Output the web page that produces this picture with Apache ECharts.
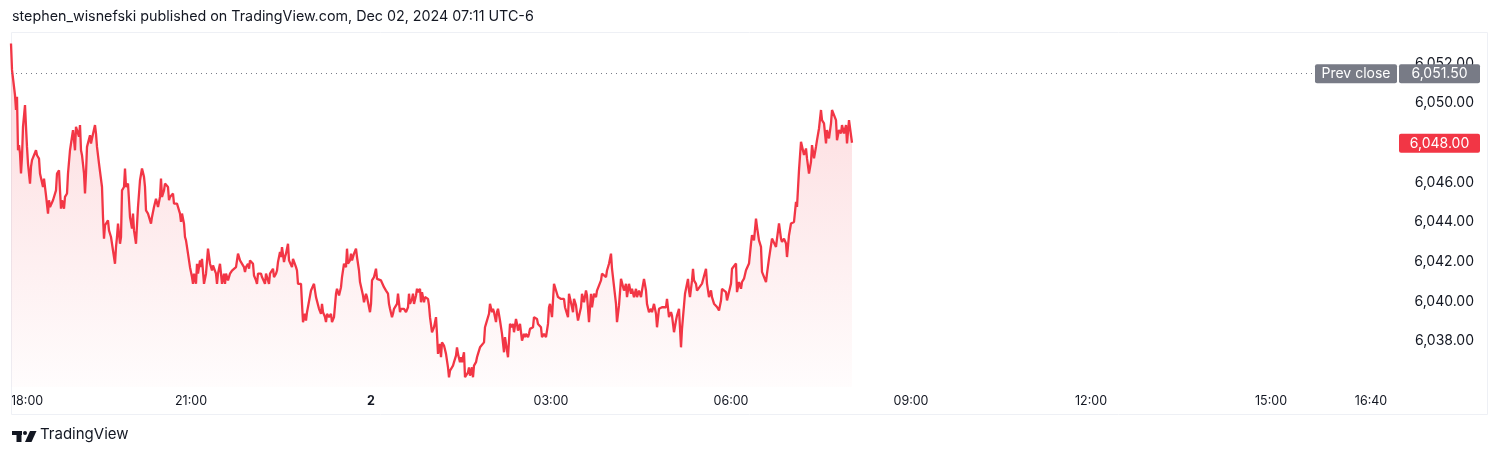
<!DOCTYPE html>
<html>
<head>
<meta charset="utf-8">
<script src="https://cdn.jsdelivr.net/npm/echarts@6/dist/echarts.min.js"></script>
<style>
html,body{margin:0;padding:0;background:#fff;}
#chart{width:1500px;height:457px;}
</style>
</head>
<body>
<div id="chart"></div>
<script>
// Minutes after 18:00 (session start, Dec 1) for each sampled point
const times = [0,1,3,4,5,6,7,8,9,10,11,12,13,14,15,16,17,19,20,21,23,25,26,28,29,31,32,33,34,35,37,38,39,41,42,43,45,46,47,48,49,50,51,53,54,56,57,59,61,62,63,64,65,67,68,69,70,71,73,74,75,76,78,79,80,81,82,84,85,86,88,89,91,92,93,94,96,97,98,100,101,103,104,105,106,107,109,110,111,113,114,115,117,118,119,121,122,123,125,126,127,129,130,131,133,134,135,137,139,140,141,143,145,146,147,149,150,151,153,154,155,157,158,159,161,162,163,165,166,167,169,170,171,173,174,175,177,178,179,181,182,183,185,186,187,189,190,191,193,194,195,197,198,199,201,202,203,205,206,207,209,210,211,213,214,215,217,218,219,221,222,223,225,226,227,229,230,231,233,234,235,237,238,239,241,242,243,245,246,247,249,250,251,253,254,255,257,258,259,261,262,263,265,266,267,269,270,271,273,274,275,277,278,279,281,282,283,285,286,287,
290,291,292,294,295,296,298,300,301,303,304,305,307,308,310,311,312,314,315,316,318,320,321,323,325,326,328,330,331,333,335,336,337,339,340,341,343,345,346,348,349,351,352,353,355,356,357,359,360,361,363,365,366,368,370,371,373,374,375,377,378,379,381,382,383,385,386,387,389,390,391,393,394,395,397,398,399,401,402,403,405,406,407,409,410,411,413,414,415,417,418,419,421,422,423,425,426,427,429,430,431,433,434,435,437,438,439,441,442,443,445,446,447,449,450,451,453,454,455,457,458,459,461,462,463,465,466,467,469,470,471,473,474,475,477,478,479,481,482,483,485,486,487,489,490,491,493,494,495,497,498,499,501,502,503,505,506,507,509,510,511,513,514,515,517,518,519,521,522,523,525,526,527,529,530,531,533,534,535,537,538,539,541,542,543,545,546,547,549,550,551,553,554,555,557,558,559,561,562,563,565,566,567,
570,571,573,575,576,578,580,581,583,585,586,588,590,591,593,595,596,598,600,601,603,605,606,608,610,611,613,615,616,618,620,621,623,625,626,628,630,631,633,635,636,638,640,641,643,645,646,648,650,651,653,655,656,658,660,661,663,665,666,668,670,671,673,674,675,677,678,679,681,682,683,685,686,
688,691,695,696,698,700,701,703,705,706,708,710,711,713,715,716,718,720,721,723,725,726,728,730,731,733,735,736,738,740,741,743,745,746,748,750,751,753,755,756,758,760,761,763,765,766,768,770,771,773,775,776,778,780,781,783,785,786,788,790,791,793,795,796,798,800,801,803,805,806,808,810,811,813,815,816,818,820,821,823,825,826,828,830,831,833,835,836,838,840,841];

// ES futures price
const prices = [6053.00,6051.67,6051.67,6050.40,6049.65,6050.32,6047.62,6047.88,6047.46,6046.45,6047.29,6048.80,6048.89,6049.90,6048.80,6047.79,6046.95,6045.94,6046.78,6047.12,6047.12,6047.62,6047.37,6047.20,6046.45,6046.45,6045.77,6046.19,6046.11,6045.35,6044.43,6045.10,6044.76,6044.68,6045.10,6045.10,6045.60,6046.45,6046.45,6046.61,6045.60,6044.68,6045.10,6044.68,6045.27,6045.44,6046.45,6047.62,6047.62,6048.63,6048.13,6047.62,6048.80,6048.89,6048.30,6048.89,6047.62,6047.37,6046.45,6045.44,6046.45,6047.79,6047.88,6048.38,6047.96,6048.21,6048.13,6048.89,6048.46,6047.79,6046.95,6046.87,6045.77,6044.26,6043.16,6043.84,6043.75,6044.09,6043.58,6043.25,6042.91,6042.83,6041.90,6042.74,6043.25,6043.92,6042.91,6043.25,6045.60,6045.77,6046.70,6045.77,6045.94,6045.10,6044.26,6043.67,6044.43,6043.58,6042.91,6043.84,6044.76,6046.11,6046.19,6046.70,6046.28,6045.77,6044.59,6044.43,6044.43,6043.92,6044.26,6044.76,6045.18,6045.10,6044.76,6045.27,6046.19,6045.27,6045.60,6045.94,6045.94,6045.77,6045.10,6045.27,6045.27,6045.44,6044.93,6044.93,6044.93,6044.85,6044.43,6044.01,6044.43,6043.92,6043.25,6043.08,6042.41,6042.07,6041.73,6041.23,6040.89,6041.40,6040.89,6041.90,6041.40,6042.07,6041.73,6042.15,6040.89,6041.14,6041.40,6042.66,6042.66,6041.90,6041.56,6041.82,6041.90,6041.40,6040.89,6041.40,6041.90,6041.40,6040.89,6041.40,6040.89,6041.40,6041.06,6041.14,6041.40,6041.56,6041.65,6041.56,6041.73,6042.07,6042.41,6042.07,6042.15,6042.07,6041.73,6041.48,6041.73,6041.90,6041.65,6042.07,6042.15,6041.90,6041.31,6041.06,6040.89,6041.40,6041.40,6041.40,6041.23,6041.14,6040.89,6041.40,6041.40,6040.89,6041.40,6041.40,6041.65,6041.23,6041.40,6041.56,6041.99,6042.49,6042.24,6042.74,6041.99,6042.24,6042.41,6042.91,6042.07,6042.15,6041.73,6042.15,6042.07,6041.73,6041.56,6040.89,
6040.89,6039.88,6038.96,6039.38,6039.04,6039.46,6039.38,6040.55,6040.64,6040.89,6040.55,6040.22,6040.22,6039.63,6039.38,6039.88,6039.46,6039.21,6038.96,6039.38,6039.21,6039.38,6038.96,6039.21,6040.39,6040.64,6040.30,6040.72,6041.23,6041.90,6041.73,6042.66,6041.90,6042.07,6042.41,6042.07,6042.41,6042.66,6042.24,6041.56,6040.98,6040.89,6040.30,6039.96,6040.39,6040.22,6040.30,6039.46,6039.88,6041.06,6041.23,6041.65,6041.14,6041.14,6041.06,6041.14,6040.72,6040.81,6040.55,6040.39,6039.88,6039.63,6039.21,6039.38,6039.63,6039.71,6039.88,6040.39,6039.46,6039.63,6039.71,6039.63,6039.71,6039.46,6039.71,6040.39,6039.88,6040.13,6040.39,6039.88,6040.30,6040.64,6040.47,6040.64,6039.96,6040.47,6039.96,6040.22,6040.13,6040.13,6039.80,6039.21,6038.45,6038.45,6038.70,6039.21,6038.37,6037.36,6037.86,6037.19,6037.94,6037.78,6037.86,6037.36,6036.68,6036.18,6036.51,6036.43,6036.77,6036.94,6037.27,6037.69,6037.36,6036.94,6037.19,6036.94,6037.44,6036.18,6036.18,6036.43,6036.68,6036.26,6036.68,6036.18,6036.77,6036.94,6037.19,6037.36,6037.69,6037.61,6037.69,6037.94,6038.70,6038.87,6038.96,6039.38,6039.88,6039.46,6039.63,6039.46,6038.96,6039.46,6039.63,6039.04,6038.96,6038.37,6037.44,6038.20,6037.86,6037.19,6038.03,6038.87,6038.70,6038.87,6038.45,6039.12,6038.87,6038.53,6038.87,6038.45,6038.03,6038.37,6038.20,6038.37,6038.20,6038.37,6038.62,6038.53,6038.70,6039.21,6039.21,6039.12,6038.87,6038.79,6038.70,6038.20,6038.37,6038.45,6038.20,6038.87,6039.71,6039.88,6039.21,6040.05,6040.89,6040.81,6040.39,6040.22,6040.30,6040.13,6040.22,6040.13,6039.71,6039.63,6039.21,6040.39,6040.30,6039.71,6039.46,6040.13,6039.80,6039.38,6039.04,
6039.71,6040.39,6039.96,6040.55,6040.30,6038.96,6040.39,6039.71,6040.39,6040.22,6040.55,6040.64,6041.06,6041.40,6041.40,6041.23,6041.56,6041.90,6042.41,6041.65,6041.65,6039.88,6038.96,6039.80,6041.14,6041.14,6040.55,6040.89,6040.22,6040.89,6040.39,6040.64,6040.22,6040.64,6040.22,6040.55,6040.22,6040.55,6041.14,6040.55,6039.88,6039.46,6039.63,6039.46,6039.88,6039.38,6038.70,6039.63,6039.71,6039.71,6039.71,6039.71,6040.13,6039.21,6039.46,6039.29,6038.45,6039.04,6039.29,6039.63,6037.69,6038.62,6038.70,6040.39,6040.39,6041.14,6040.55,6040.22,6041.06,6041.65,6041.06,6040.89,6040.55,
6040.56,6040.90,6041.65,6040.90,6040.22,6040.56,6040.22,6039.89,6039.89,6039.72,6039.55,6040.05,6040.64,6040.64,6040.47,6040.05,6040.05,6040.90,6041.65,6041.65,6041.91,6040.47,6040.98,6040.64,6040.98,6041.15,6041.57,6041.65,6041.91,6042.92,6043.34,6043.08,6044.18,6043.76,6043.08,6042.75,6041.49,6041.40,6040.98,6041.40,6042.16,6042.24,6043.17,6043.17,6042.75,6043.17,6043.93,6043.17,6043.00,6043.17,6042.92,6042.24,6043.34,6043.93,6043.93,6044.01,6045.02,6044.77,6046.62,6048.05,6048.13,6047.38,6047.71,6047.21,6046.45,6047.04,6047.88,6047.21,6047.80,6048.13,6048.72,6049.65,6049.14,6048.98,6047.97,6048.64,6048.22,6048.98,6049.65,6049.65,6049.14,6048.13,6048.64,6048.47,6048.89,6048.47,6048.89,6047.97,6049.14,6049.06,6048.00];

const prevClose = 6051.50;

// Tick labels
const xTickMinutes = [0, 180, 360, 540, 720, 900, 1080, 1260, 1360];
const xTickLabels = ['18:00', '21:00', '2', '03:00', '06:00', '09:00', '12:00', '15:00', '16:40'];
const yTicks = [6038, 6040, 6042, 6044, 6046, 6048, 6050, 6052];

const FONT = 'Inter, "Noto Sans", Roboto, sans-serif';
const fmt = v => v.toLocaleString('en-US', {minimumFractionDigits: 2, maximumFractionDigits: 2});

const chart = echarts.init(document.getElementById('chart'), null, {renderer: 'canvas'});
const seriesData = times.map((t, i) => [t, prices[i]]);

const GRID = {left: 11, right: 101, top: 33, bottom: 70};

chart.setOption({
  animation: false,
  backgroundColor: '#ffffff',
  textStyle: {fontFamily: FONT},
  grid: Object.assign({containLabel: false}, GRID),
  xAxis: {
    type: 'value',
    min: 0,
    max: 1388,
    axisLine: {show: false},
    axisTick: {show: false},
    splitLine: {show: false},
    axisLabel: {
      customValues: xTickMinutes,
      margin: 8,
      color: '#131722',
      fontSize: 12.5,
      fontFamily: FONT,
      alignMinLabel: 'left',
      formatter: function (v) {
        const i = xTickMinutes.indexOf(v);
        const s = i >= 0 ? xTickLabels[i] : '';
        return s === '2' ? '{b|2}' : s;
      },
      rich: {b: {fontWeight: 'bold', fontSize: 12.5, color: '#131722', fontFamily: FONT}}
    }
  },
  yAxis: {
    type: 'value',
    position: 'right',
    min: 6035.69,
    max: 6053.53,
    axisLine: {show: false},
    axisTick: {show: false},
    splitLine: {show: false},
    axisLabel: {
      customValues: yTicks,
      align: 'right',
      margin: 75,
      padding: [3, 0, 0, 0],
      color: '#131722',
      fontSize: 14,
      fontFamily: FONT,
      formatter: v => fmt(v)
    }
  },
  series: [{
    type: 'line',
    data: seriesData,
    showSymbol: false,
    symbol: 'none',
    lineStyle: {color: '#F23645', width: 2.3},
    itemStyle: {color: '#F23645'},
    areaStyle: {
      color: new echarts.graphic.LinearGradient(0, 0, 0, 1, [
        {offset: 0, color: 'rgba(242,54,69,0.27)'},
        {offset: 1, color: 'rgba(242,54,69,0.02)'}
      ])
    },
    markLine: {
      silent: true,
      symbol: ['none', 'none'],
      label: {show: false},
      lineStyle: {color: '#787B86', type: [1, 4], width: 1},
      data: [{yAxis: prevClose}]
    }
  }]
});

const yPrev = chart.convertToPixel({yAxisIndex: 0}, prevClose);
const lastPrice = prices[prices.length - 1];
const yLast = chart.convertToPixel({yAxisIndex: 0}, lastPrice);

function box(x, yc, w, fill, text) {
  return [
    {type: 'rect', z: 100, zlevel: 1, shape: {x: x, y: yc - 9, width: w, height: 19, r: 2}, style: {fill: fill}},
    {type: 'text', z: 101, zlevel: 1, x: x + w / 2, y: yc + 1, style: {text: text, fill: '#ffffff', font: '14px ' + FONT, textAlign: 'center', textVerticalAlign: 'middle'}}
  ];
}

chart.setOption({
  graphic: [
    // outer frame
    {type: 'rect', z: 1, shape: {x: 11.5, y: 32.5, width: 1476, height: 382}, style: {fill: 'none', stroke: '#EEF0F5', lineWidth: 1}},
    // header
    {type: 'text', left: 12, top: 10, style: {text: 'stephen_wisnefski published on TradingView.com, Dec 02, 2024 07:11 UTC-6', fill: '#131722', font: '14.3px ' + FONT}}
  ].concat(
    box(1315, yPrev, 82, '#787B86', 'Prev close'),
    box(1399, yPrev, 81, '#787B86', fmt(prevClose)),
    box(1399, yLast, 81, '#F23645', fmt(lastPrice)),
    [
      // logo
      {type: 'rect', shape: {x: 12, y: 431, width: 10, height: 4}, style: {fill: '#131722'}},
      {type: 'rect', shape: {x: 16.5, y: 431, width: 5, height: 11}, style: {fill: '#131722'}},
      {type: 'circle', shape: {cx: 25, cy: 433, r: 2}, style: {fill: '#131722'}},
      {type: 'polygon', shape: {points: [[30, 431], [36.5, 431], [31.5, 442], [25, 442]]}, style: {fill: '#131722'}},
      {type: 'text', left: 40, top: 427, style: {text: 'TradingView', fill: '#131722', font: '15px ' + FONT}}
    ]
  )
});
</script>
</body>
</html>
